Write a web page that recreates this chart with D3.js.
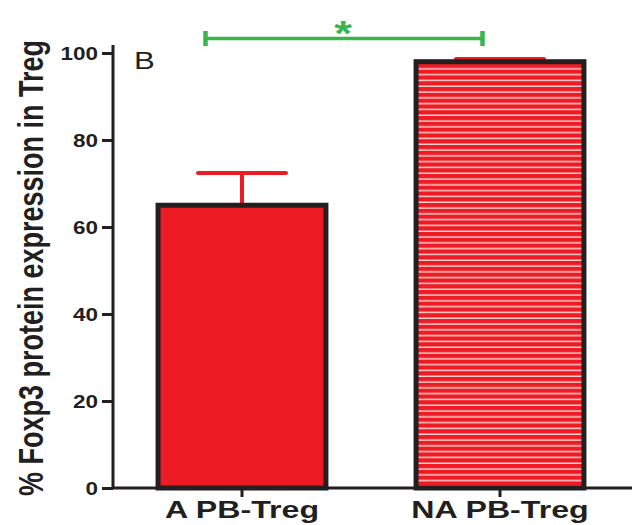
<!DOCTYPE html>
<html><head><meta charset="utf-8">
<script src="https://cdn.jsdelivr.net/npm/d3@7"></script>
<style>body{margin:0;background:#fff}svg{display:block}</style>
</head><body>
<svg id="c" width="632" height="525"></svg>
<script>
const categories = ["A PB-Treg", "NA PB-Treg"];
const means = [65, 98];
const errors = [7.4, 0.6];
const yTicks = [0, 20, 40, 60, 80, 100];
const yLabel = "% Foxp3 protein expression in Treg";
const panelLabel = "B";
const sigLabel = "*";

const svg = d3.select("#c");
const dark = "#231f20", red = "#ed1c24", green = "#39b54a";
const FONT = "'Liberation Sans', Arial, sans-serif";
const SX = 1.3; // horizontal stretch of the reference's text

const x = d3.scaleBand().domain(categories).range([113, 629]).paddingInner(0.33).paddingOuter(0.165);
const y = d3.scaleLinear().domain([0, 100]).range([488, 53]);

const defs = svg.append("defs");
const pat = defs.append("pattern").attr("id", "stripes").attr("patternUnits", "userSpaceOnUse")
  .attr("width", 10).attr("height", 5.8);
pat.append("rect").attr("width", 10).attr("height", 5.8).attr("fill", red);
pat.append("rect").attr("y", 4.4).attr("width", 10).attr("height", 1.3).attr("fill", "#fde8e8");

// error bars (behind bars)
const g = svg.append("g");
categories.forEach((c, i) => {
  const cx = x(c) + x.bandwidth() / 2;
  g.append("line").attr("x1", cx).attr("x2", cx).attr("y1", y(means[i])).attr("y2", y(means[i] + errors[i]))
    .attr("stroke", red).attr("stroke-width", 4);
  g.append("line").attr("x1", cx - 44).attr("x2", cx + 44).attr("y1", y(means[i] + errors[i])).attr("y2", y(means[i] + errors[i]))
    .attr("stroke", red).attr("stroke-width", 4).attr("stroke-linecap", "round");
});

// bars
svg.append("g").selectAll("rect").data(categories).join("rect")
  .attr("x", d => x(d) + 2.5).attr("width", x.bandwidth() - 5)
  .attr("y", (d, i) => y(means[i]))
  .attr("height", (d, i) => y(0) - y(means[i]))
  .attr("fill", (d, i) => i === 0 ? red : "url(#stripes)")
  .attr("stroke", dark).attr("stroke-width", 5);

// y axis
const yAxis = svg.append("g").attr("transform", "translate(113,0)")
  .call(d3.axisLeft(y).tickValues(yTicks).tickSize(11).tickPadding(4));
yAxis.select(".domain").attr("stroke", dark).attr("stroke-width", 3).attr("d", "M0,45V488");
yAxis.selectAll(".tick line").attr("stroke", dark).attr("stroke-width", 3);
yAxis.selectAll(".tick text").attr("fill", dark).style("font", `bold 18px ${FONT}`)
  .attr("x", -15 / 1.25).attr("dy", "0.36em").attr("transform", "scale(1.25,1)");

// x axis
const xAxis = svg.append("g").attr("transform", "translate(0,488)")
  .call(d3.axisBottom(x).tickSize(9).tickPadding(5));
xAxis.select(".domain").attr("stroke", dark).attr("stroke-width", 3).attr("d", "M113,0H632");
xAxis.selectAll(".tick line").attr("stroke", dark).attr("stroke-width", 3);
xAxis.selectAll(".tick text").attr("fill", dark).style("font", `bold 24px ${FONT}`)
  .attr("y", 30).attr("dy", 0).attr("transform", "scale(1.34,1)");

// y label
svg.append("text").attr("transform", `translate(43,268) scale(${SX},1) rotate(-90)`).attr("text-anchor", "middle")
  .attr("fill", dark).style("font", `bold 27px ${FONT}`).text(yLabel);

// panel label
svg.append("text").attr("transform", `translate(134,69) scale(${SX},1)`).attr("fill", dark)
  .style("font", `24px ${FONT}`).text(panelLabel);

// significance bar
const sx1 = 205.5, sx2 = 482.5, sy = 38.5;
svg.append("line").attr("x1", sx1).attr("x2", sx2).attr("y1", sy).attr("y2", sy).attr("stroke", green).attr("stroke-width", 3.3);
[sx1, sx2].forEach(sx => svg.append("line").attr("x1", sx).attr("x2", sx).attr("y1", sy - 7.5).attr("y2", sy + 7.5)
  .attr("stroke", green).attr("stroke-width", 4.5));
svg.append("text").attr("transform", `translate(${(sx1 + sx2) / 2 - 1},45) scale(${SX},1)`).attr("text-anchor", "middle").attr("fill", green)
  .style("font", `bold 35px ${FONT}`).text(sigLabel);
</script>
</body></html>
